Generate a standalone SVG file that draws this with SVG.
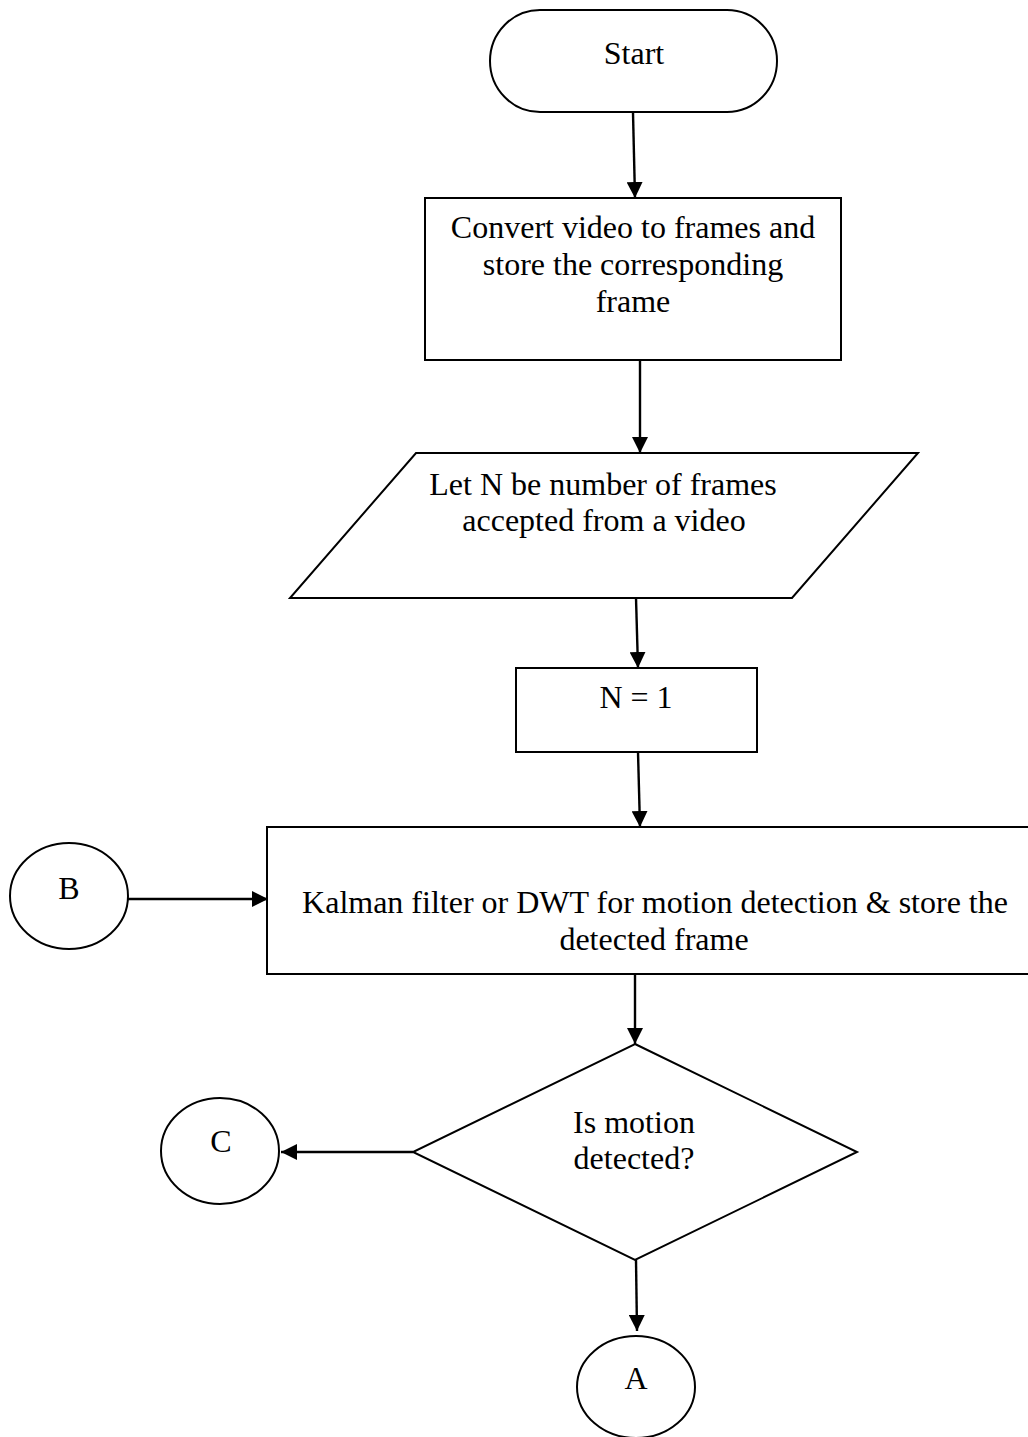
<svg xmlns="http://www.w3.org/2000/svg" width="1028" height="1437" viewBox="0 0 1028 1437">
<style>
.s{fill:#fff;stroke:#000;stroke-width:2}
.t{font-family:"Liberation Serif","Times New Roman",serif;font-size:32px;fill:#000;text-anchor:middle}
.c{stroke:#000;stroke-width:2.4;fill:none;marker-end:url(#ah)}
</style>
<defs>
<marker id="ah" viewBox="0 0 16 16" refX="16" refY="8" markerWidth="16" markerHeight="16" markerUnits="userSpaceOnUse" orient="auto">
<path d="M0,0 L16,8 L0,16 Z" fill="#000"/>
</marker>
</defs>
<rect width="1028" height="1437" fill="#fff"/>
<g id="connectors">
<line class="c" x1="633" y1="113" x2="635" y2="198"/>
<line class="c" x1="640" y1="360" x2="640" y2="453"/>
<line class="c" x1="636" y1="598" x2="638" y2="668"/>
<line class="c" x1="638" y1="752" x2="640" y2="827"/>
<line class="c" x1="128" y1="899" x2="268" y2="899"/>
<line class="c" x1="635" y1="974" x2="635" y2="1044"/>
<line class="c" x1="413" y1="1152" x2="281" y2="1152"/>
<line class="c" x1="636" y1="1260" x2="637" y2="1331"/>
</g>
<g id="start">
<rect class="s" x="490" y="10" width="287" height="102" rx="50" ry="51"/>
<text class="t" x="634" y="64">Start</text>
</g>
<g id="convert">
<rect class="s" x="425" y="198" width="416" height="162"/>
<text class="t" x="633" y="238">Convert video to frames and</text>
<text class="t" x="633" y="275">store the corresponding</text>
<text class="t" x="633" y="312">frame</text>
</g>
<g id="input">
<polygon class="s" points="416,453 918,453 792,598 290,598"/>
<text class="t" x="603" y="495">Let N be number of frames</text>
<text class="t" x="604" y="531">accepted from a video</text>
</g>
<g id="init">
<rect class="s" x="516" y="668" width="241" height="84"/>
<text class="t" x="636" y="708">N = 1</text>
</g>
<g id="kalman">
<rect class="s" x="267" y="827" width="790" height="147"/>
<text class="t" x="655" y="913">Kalman filter or DWT for motion detection &amp; store the</text>
<text class="t" x="654" y="950">detected frame</text>
</g>
<g id="B">
<ellipse class="s" cx="69" cy="896" rx="59" ry="53"/>
<text class="t" x="69" y="899">B</text>
</g>
<g id="decision">
<polygon class="s" points="635,1044 857,1152 635,1260 413,1152"/>
<text class="t" x="634" y="1133">Is motion</text>
<text class="t" x="634" y="1169">detected?</text>
</g>
<g id="C">
<ellipse class="s" cx="220" cy="1151" rx="59" ry="53"/>
<text class="t" x="221" y="1152">C</text>
</g>
<g id="A">
<ellipse class="s" cx="636" cy="1387" rx="59" ry="51"/>
<text class="t" x="636" y="1389">A</text>
</g>
</svg>
